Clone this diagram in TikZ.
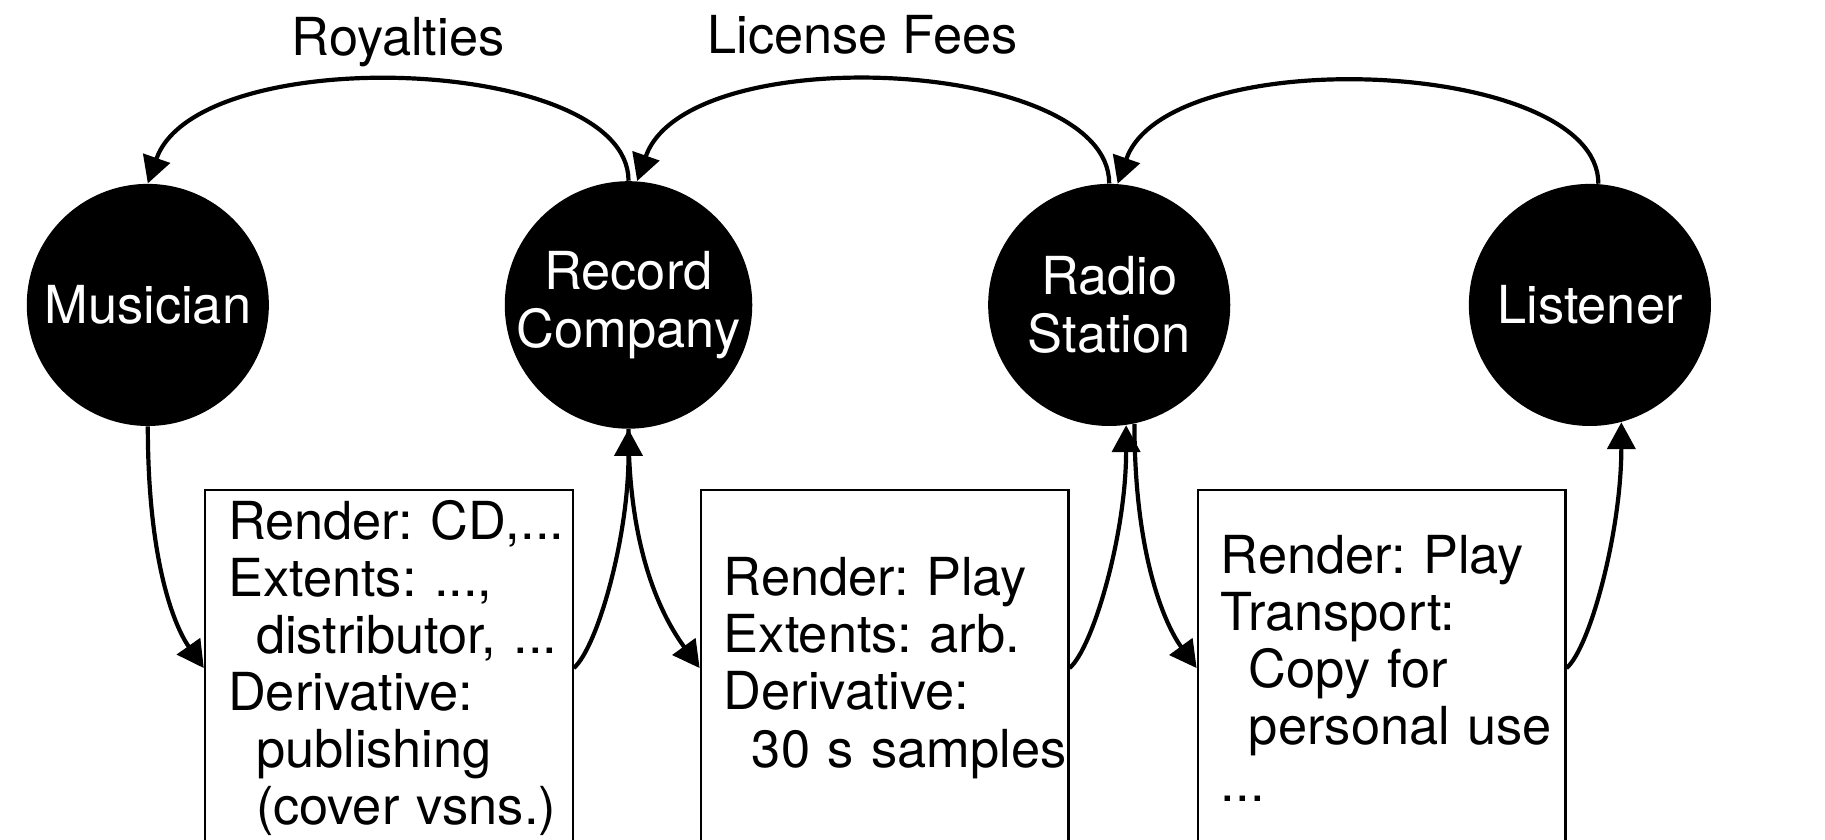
\documentclass[tikz,border=0pt]{standalone}
\usepackage{fontspec}
\setmainfont{TeX Gyre Heros}
\usepackage{tikz}
\usetikzlibrary{arrows.meta,positioning}
\newcommand{\shiftin}{\hspace*{12pt}}
\newcommand{\boxfont}{\fontsize{22.5}{24.5}\selectfont\frenchspacing\hyphenpenalty10000\exhyphenpenalty10000\relax}

\begin{document}
\begin{tikzpicture}[x=0.5pt, y=-0.5pt,
  actor/.style={circle, fill=black, text=white, minimum size=104pt, inner sep=0pt, align=center, font=\fontsize{22.5}{25}\selectfont},
  rights/.style={draw, line width=0.9pt, minimum width=158pt, minimum height=153pt, text width=138pt, inner xsep=10pt, inner ysep=2pt, align=left, font=\boxfont},
  flow/.style={-{Triangle[length=11.5pt,width=12pt]}, line width=1.8pt},
  lbl/.style={font=\fontsize{22.5}{25}\selectfont}]

\useasboundingbox (0,0) rectangle (1568,721.7);
\clip (0,0) rectangle (1568,721.7);

% acteurs
\node[actor] (mus) at (127,262) {Musician};
\node[actor] (rec) at (540,262) {Record\\Company};
\node[actor] (rad) at (953,262) {Radio\\Station};
\node[actor] (lis) at (1366,262) {Listener};

% droits
\node[rights] (cd) at (334,574) {Render:~CD,...\\Extents: ...,\\\shiftin distributor,~...\\Derivative:\\\shiftin publishing\\\shiftin (cover~vsns.)};
\node[rights] (play) at (760,574) {Render: Play\\Extents: arb.\\Derivative:\\\shiftin 30~s~samples};
\node[rights] (copy) at (1187,574) {Render: Play\\Transport:\\\shiftin Copy for\\\shiftin personal~use\\...};

% paiements
\draw[flow] (rec.north) .. controls +(0,-108) and +(43,-123) .. (mus.north);
\draw[flow] (rad.north) .. controls +(0,-108) and +(43,-123) .. (rec.86);
\draw[flow] (lis.86) .. controls +(0,-108) and +(43,-123) .. (rad.86);
\node[lbl] (roy) at (342,36) {Royalties};
\node[lbl] (fee) at (741,30) {License Fees};

% flux
\draw[flow] (mus.south) .. controls +(0,114) and +(-26,-37) .. (cd.west);
\draw[flow] (cd.east) .. controls +(20,-17) and +(0,94) .. (rec.south);
\draw[flow] (rec.south) .. controls +(0,114) and +(-27,-37) .. (play.west);
\draw[flow] (play.east) .. controls +(20,-17) and +(0,94) .. (rad.-82);
\draw[flow] (rad.-78) .. controls +(0,114) and +(-27,-37) .. (copy.west);
\draw[flow] (copy.east) .. controls +(20,-17) and +(0,94) .. (lis.-75);

\end{tikzpicture}
\end{document}
